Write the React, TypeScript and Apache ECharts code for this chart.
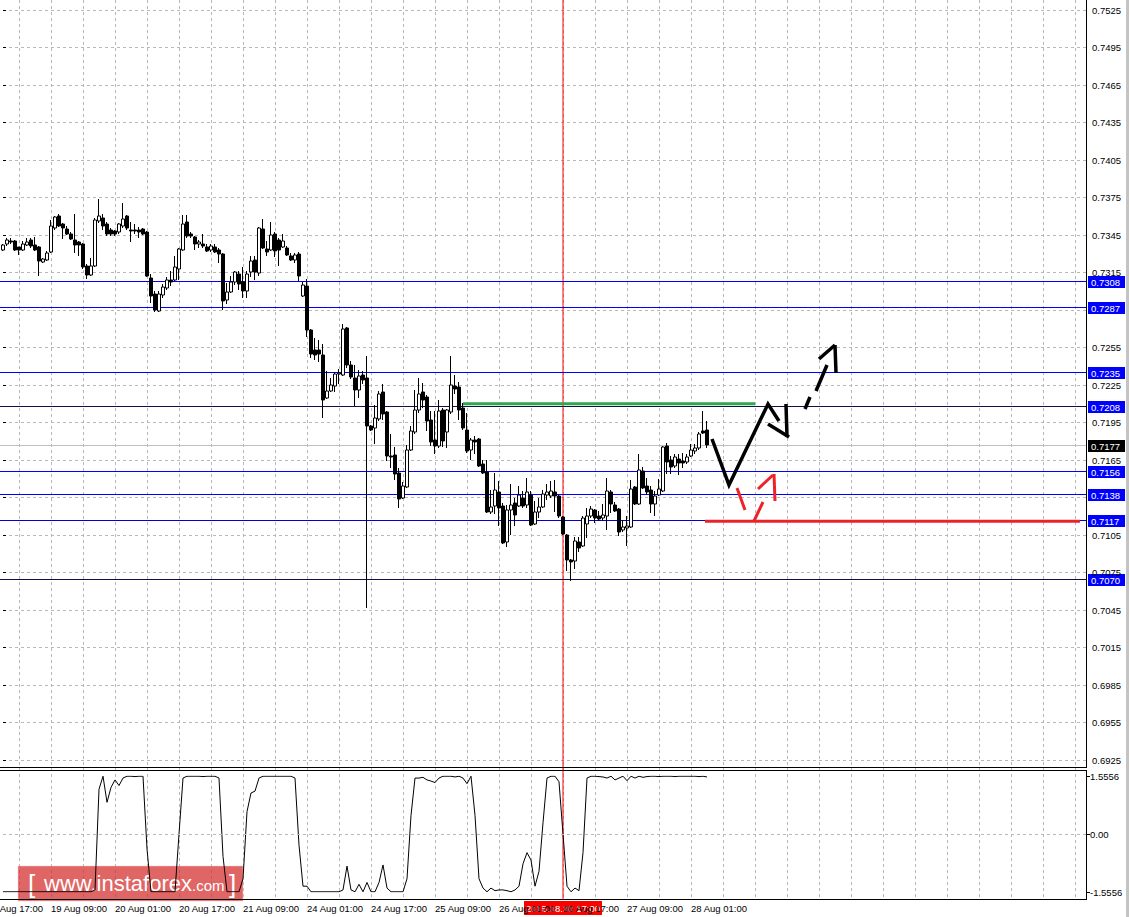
import React, { useEffect, useRef } from "react";
import * as echarts from "echarts";

const FONT = "'Liberation Sans', Arial, sans-serif";

// ---------- categories (H1 bars, Aug 2015) ----------
const SLOT_COUNT = 272; // visible slots incl. right-side shift area
const LABEL_PHASE = 4; // first label "18 Aug 17:00" lies 4 bars left of slot 0
const LAST_LABEL_INDEX = 172; // "28 Aug 01:00"
const CURSOR_INDEX = 140; // "26 Aug 17:00"
const CURSOR_LABEL = "2015.08.26 17:00";
const FIRST_LABEL = "18 Aug 17:00";

function buildCategories(): string[] {
  const mon = ["Jan", "Feb", "Mar", "Apr", "May", "Jun", "Jul", "Aug", "Sep", "Oct", "Nov", "Dec"];
  const out: string[] = [];
  let t = Date.UTC(2015, 7, 18, 21);
  while (out.length < SLOT_COUNT) {
    const d = new Date(t);
    const dd = String(d.getUTCDate()).padStart(2, "0");
    const hh = String(d.getUTCHours()).padStart(2, "0");
    out.push(`${dd} ${mon[d.getUTCMonth()]} ${hh}:00`);
    t += 3600000;
    while ([0, 6].includes(new Date(t).getUTCDay())) t += 3600000;
  }
  return out;
}
const categories = buildCategories();

// ---------- candles ----------
const opens = [
  0.7333, 0.73378, 0.73402, 0.73402, 0.73354, 0.7333, 0.7337, 0.7341, 0.7337, 0.73354,
  0.73234, 0.7325, 0.73314, 0.73506, 0.73602, 0.73538, 0.73498, 0.73458, 0.7341, 0.73394,
  0.73378, 0.73202, 0.7313, 0.73202, 0.73562, 0.73586, 0.73538, 0.7349, 0.73482, 0.73474,
  0.73522, 0.73602, 0.7349, 0.7349, 0.7349, 0.73498, 0.73474, 0.73106, 0.72978, 0.72842,
  0.7297, 0.73026, 0.7309, 0.7309, 0.73178, 0.7333, 0.73554, 0.73458, 0.73434, 0.73378,
  0.73378, 0.73354, 0.7333, 0.73354, 0.7333, 0.73298, 0.7293, 0.72994, 0.73074, 0.73138,
  0.73074, 0.73002, 0.73154, 0.7325, 0.73146, 0.73498, 0.73338, 0.7333, 0.73458, 0.7341,
  0.73354, 0.73346, 0.73282, 0.7325, 0.73298, 0.72962, 0.73042, 0.7269, 0.7253, 0.7253,
  0.7249, 0.72146, 0.72202, 0.72242, 0.72338, 0.7233, 0.72706, 0.7241, 0.72306, 0.7221,
  0.7233, 0.72306, 0.71922, 0.71906, 0.71978, 0.72194, 0.72034, 0.71682, 0.7169, 0.71546,
  0.71346, 0.71434, 0.7173, 0.71874, 0.7205, 0.72194, 0.72154, 0.7197, 0.7181, 0.71762,
  0.7205, 0.71874, 0.72034, 0.72242, 0.72234, 0.72066, 0.7189, 0.7173, 0.7181, 0.71818,
  0.71618, 0.71554, 0.71234, 0.71282, 0.71394, 0.71282, 0.70994, 0.7125, 0.71306, 0.71282,
  0.71346, 0.7129, 0.7137, 0.71138, 0.71234, 0.71274, 0.7137, 0.71362, 0.71394, 0.71362,
  0.71194, 0.7105, 0.7085, 0.70842, 0.70994, 0.70962, 0.71138, 0.71202, 0.7125, 0.71202,
  0.71186, 0.71202, 0.71394, 0.7129, 0.71258, 0.7109, 0.71106, 0.71114, 0.71434, 0.71298,
  0.71562, 0.71442, 0.7141, 0.71298, 0.7137, 0.71402, 0.71762, 0.7165, 0.71602, 0.71658,
  0.71642, 0.71634, 0.71682, 0.71722, 0.71746, 0.71882, 0.7189];
const highs = [
  0.73378, 0.73426, 0.73426, 0.7341, 0.73354, 0.73402, 0.73426, 0.73426, 0.73434, 0.73362,
  0.73266, 0.73322, 0.7357, 0.73602, 0.73618, 0.73546, 0.73522, 0.73474, 0.73618, 0.73402,
  0.73386, 0.73218, 0.73266, 0.73586, 0.73738, 0.73618, 0.73554, 0.73506, 0.7349, 0.73546,
  0.73706, 0.7361, 0.73554, 0.73538, 0.73514, 0.73506, 0.73482, 0.73138, 0.73002, 0.73002,
  0.73058, 0.73114, 0.73162, 0.73282, 0.73346, 0.7361, 0.7361, 0.73474, 0.73442, 0.7341,
  0.73458, 0.73378, 0.73378, 0.73378, 0.73346, 0.73306, 0.73066, 0.73122, 0.73162, 0.73162,
  0.73194, 0.73162, 0.73282, 0.73282, 0.73514, 0.73578, 0.73402, 0.73554, 0.73474, 0.73426,
  0.73458, 0.73362, 0.73306, 0.73306, 0.73314, 0.73074, 0.73098, 0.72698, 0.72626, 0.7261,
  0.72578, 0.72362, 0.72306, 0.72354, 0.72378, 0.72738, 0.72714, 0.72442, 0.7241, 0.7237,
  0.72362, 0.72482, 0.7193, 0.7209, 0.72202, 0.72258, 0.72042, 0.71858, 0.71754, 0.71586,
  0.71474, 0.7177, 0.71922, 0.7221, 0.72306, 0.72266, 0.7217, 0.72042, 0.72042, 0.7213,
  0.72066, 0.72058, 0.72482, 0.7233, 0.72274, 0.72106, 0.72026, 0.71826, 0.71842, 0.71826,
  0.7165, 0.7165, 0.7141, 0.71546, 0.71482, 0.71306, 0.7129, 0.71458, 0.71346, 0.71442,
  0.71402, 0.71506, 0.71402, 0.71322, 0.71346, 0.7141, 0.71458, 0.71482, 0.7149, 0.7137,
  0.71202, 0.71058, 0.70858, 0.71034, 0.71034, 0.71202, 0.71266, 0.71282, 0.71258, 0.71242,
  0.71298, 0.71506, 0.7141, 0.71314, 0.71266, 0.7117, 0.71202, 0.7149, 0.71442, 0.71698,
  0.71594, 0.71506, 0.71442, 0.71402, 0.71498, 0.71762, 0.71786, 0.71682, 0.71698, 0.71698,
  0.71706, 0.71698, 0.71778, 0.71778, 0.71874, 0.72042, 0.71962];
const lows = [
  0.73322, 0.73362, 0.73378, 0.73322, 0.7329, 0.73322, 0.73362, 0.73346, 0.73322, 0.73122,
  0.73226, 0.73242, 0.73306, 0.7349, 0.73514, 0.73418, 0.7345, 0.7341, 0.73306, 0.73282,
  0.73178, 0.73098, 0.73122, 0.73194, 0.73546, 0.7349, 0.73442, 0.73442, 0.73442, 0.73458,
  0.73506, 0.7349, 0.73394, 0.73458, 0.73426, 0.7345, 0.73114, 0.72906, 0.72834, 0.72834,
  0.72946, 0.7301, 0.73042, 0.73082, 0.7309, 0.73322, 0.73426, 0.73426, 0.7333, 0.73346,
  0.73346, 0.73314, 0.73314, 0.73306, 0.73226, 0.7285, 0.72898, 0.72986, 0.7305, 0.7301,
  0.72946, 0.72946, 0.73114, 0.7309, 0.73122, 0.73338, 0.73282, 0.73322, 0.73274, 0.73202,
  0.73346, 0.73282, 0.73242, 0.73226, 0.73082, 0.72954, 0.72634, 0.72466, 0.7245, 0.72434,
  0.71986, 0.72138, 0.72194, 0.72194, 0.72258, 0.72322, 0.72386, 0.72298, 0.72082, 0.72146,
  0.72258, 0.70466, 0.71882, 0.71778, 0.71962, 0.7197, 0.71642, 0.71586, 0.7149, 0.71266,
  0.71338, 0.71426, 0.71722, 0.71858, 0.72026, 0.72066, 0.71882, 0.71762, 0.71698, 0.71746,
  0.71754, 0.71746, 0.72018, 0.72178, 0.7197, 0.7189, 0.71706, 0.7165, 0.71698, 0.71594,
  0.71538, 0.71226, 0.71218, 0.71218, 0.71122, 0.70978, 0.70954, 0.7105, 0.71122, 0.71274,
  0.71266, 0.71266, 0.71122, 0.7113, 0.71186, 0.71266, 0.7133, 0.71346, 0.71234, 0.71186,
  0.7105, 0.70762, 0.70682, 0.70778, 0.70914, 0.70954, 0.71026, 0.71186, 0.71146, 0.71162,
  0.71162, 0.7109, 0.71226, 0.71234, 0.71042, 0.71074, 0.70962, 0.71106, 0.7129, 0.7129,
  0.71418, 0.7137, 0.71226, 0.71202, 0.71362, 0.71394, 0.71538, 0.71538, 0.71586, 0.7153,
  0.71586, 0.71618, 0.71674, 0.71698, 0.7173, 0.71858, 0.71746];
const closes = [
  0.7337, 0.7341, 0.73394, 0.7333, 0.7333, 0.73378, 0.73394, 0.73362, 0.7333, 0.73242,
  0.73258, 0.73306, 0.73522, 0.73594, 0.73522, 0.73506, 0.73458, 0.73418, 0.7337, 0.7337,
  0.73194, 0.7313, 0.73202, 0.7357, 0.73602, 0.73522, 0.73458, 0.73458, 0.73458, 0.73538,
  0.73578, 0.73506, 0.73482, 0.73482, 0.73474, 0.73458, 0.73122, 0.72962, 0.7285, 0.72978,
  0.73034, 0.7309, 0.73074, 0.73194, 0.73338, 0.73538, 0.73442, 0.73442, 0.73378, 0.73394,
  0.73362, 0.73322, 0.73362, 0.73314, 0.73298, 0.72922, 0.72994, 0.73074, 0.73154, 0.73058,
  0.73002, 0.73138, 0.73242, 0.73154, 0.73506, 0.73346, 0.73314, 0.7345, 0.73322, 0.7333,
  0.73402, 0.7329, 0.7325, 0.7329, 0.73122, 0.7305, 0.7269, 0.72498, 0.7249, 0.72498,
  0.7213, 0.72202, 0.7225, 0.72338, 0.72346, 0.72698, 0.7241, 0.72314, 0.7221, 0.72322,
  0.7229, 0.71922, 0.7189, 0.71986, 0.72178, 0.72018, 0.71682, 0.71674, 0.71538, 0.71338,
  0.71442, 0.7173, 0.71882, 0.7205, 0.72178, 0.7213, 0.71962, 0.71794, 0.71762, 0.72042,
  0.71802, 0.7205, 0.7225, 0.72218, 0.7205, 0.71906, 0.71722, 0.7181, 0.71794, 0.71602,
  0.71546, 0.71234, 0.71274, 0.7141, 0.71266, 0.70986, 0.7125, 0.7129, 0.7121, 0.7137,
  0.71282, 0.71394, 0.7113, 0.71234, 0.71274, 0.71378, 0.71394, 0.71402, 0.71362, 0.71202,
  0.71058, 0.7085, 0.70834, 0.71002, 0.70946, 0.71186, 0.71202, 0.71258, 0.71186, 0.71178,
  0.7121, 0.71402, 0.71298, 0.71242, 0.71074, 0.71114, 0.71122, 0.71418, 0.71298, 0.7157,
  0.71426, 0.71394, 0.71298, 0.71362, 0.71418, 0.71754, 0.71634, 0.71594, 0.71674, 0.71626,
  0.71626, 0.71674, 0.7173, 0.71746, 0.71858, 0.71866, 0.7177];

// ---------- oscillator sub-window ----------
const oscillator = [
  -1.55, -1.55, -1.55, -1.55, -1.55, -1.55, -1.55, -1.55, -1.55, -1.55,
  -1.55, -1.55, -1.55, -1.55, -1.55, -1.55, -1.55, -1.55, -1.55, -1.55,
  -1.55, -1.55, -1.55, -1.5, 1.2, 1.55, 0.85, 1.25, 1.45, 1.3,
  1.5, 1.55, 1.55, 1.54, 1.55, 1.55, -0.4, -1.55, -1.55, -1.55,
  -1.55, -1.55, -1.55, -1.55, 0.0, 1.5, 1.55, 1.55, 1.55, 1.55,
  1.54, 1.55, 1.55, 1.55, 1.5, -0.6, -1.55, -1.55, -1.55, -1.55,
  -1.2, 0.6, 1.1, 1.15, 1.5, 1.55, 1.55, 1.55, 1.55, 1.55,
  1.55, 1.55, 1.55, 1.5, -0.3, -1.4, -1.4, -1.55, -1.55, -1.55,
  -1.55, -1.55, -1.55, -1.55, -1.55, -1.5, -0.86, -1.5, -1.55, -1.35,
  -1.55, -1.3, -1.55, -1.55, -1.3, -0.83, -1.45, -1.55, -1.55, -1.55,
  -1.55, -1.2, 0.5, 1.5, 1.5, 1.52, 1.45, 1.42, 1.38, 1.5,
  1.55, 1.55, 1.55, 1.53, 1.55, 1.5, 1.35, 1.55, 0.5, -1.2,
  -1.45, -1.55, -1.45, -1.52, -1.5, -1.5, -1.52, -1.55, -1.5, -1.4,
  -0.8, -0.5, -0.7, -1.4, -1.0, 0.3, 1.5, 1.55, 1.55, 1.4,
  0.0, -1.4, -1.55, -1.45, -1.52, -0.5, 1.5, 1.55, 1.55, 1.54,
  1.53, 1.5, 1.55, 1.45, 1.5, 1.55, 1.43, 1.55, 1.5, 1.55,
  1.52, 1.54, 1.55, 1.55, 1.54, 1.55, 1.55, 1.55, 1.54, 1.55,
  1.55, 1.55, 1.55, 1.55, 1.54, 1.55, 1.53];

// ---------- horizontal levels ----------
const levelValues = [0.7308, 0.7287, 0.7235, 0.7208, 0.7156, 0.7138, 0.7117, 0.707];
const levelLineColors = ["#0000ff", "#0000ff", "#0000ff", "#10104a", "#0000ff", "#0000ff", "#0000d0", "#10104a"];
const levelTagColor = "#0000ff";
const currentPrice = 0.7177;
const currentLineColor = "#c0c0c0";
const yTickMin = 0.6925;
const yTickMax = 0.7525;
const yTickStep = 0.003;
const hiddenTickLabels = ["0.7285", "0.7135"]; // covered by the 0.7287 / 0.7138 tags
const oscBound = 1.5556;

// ---------- hand-drawn annotations (x = slot index, y = price) ----------
const greenSegment = [[115, 0.721], [188, 0.721]];
const redSegment = [[175.5, 0.7116], [269.25, 0.7116]];
const blackPath = [[177.25, 0.71818], [181.5, 0.7145], [191.25, 0.72098], [194, 0.71962]];
const blackHead = [
  [[191.25, 0.71938], [196.5, 0.71834]],
  [[195.75, 0.72098], [196, 0.71834]],
];
const blackDashes = [
  [[200.5, 0.72058], [201.75, 0.72154]],
  [[203.25, 0.72202], [206, 0.7241]],
  [[204, 0.72458], [208, 0.7257]],
  [[208, 0.7257], [208.25, 0.72346]],
];
const redDashes = [
  [[183.5, 0.71426], [185.5, 0.7125]],
  [[187.75, 0.71162], [190, 0.71314]],
  [[188.75, 0.71418], [192.5, 0.7153]],
  [[192.75, 0.71538], [193, 0.71322]],
];

const GRID_LEFT = 3;
const GRID_RIGHT = 43;
const AXIS_X = 1086.5;

function buildOption(): any {
  const candleData = opens.map((o, i) => [o, closes[i], lows[i], highs[i]]);

  const segs = (list: number[][][], color: string, width: number, z = 6) => ({
    type: "lines",
    coordinateSystem: "cartesian2d",
    xAxisIndex: 3,
    yAxisIndex: 0,
    polyline: true,
    silent: true,
    z,
    lineStyle: { color, width, opacity: 1 },
    data: list.map((c) => ({ coords: c })),
  });

  const splitDash = { color: "#b8b8b8", width: 1, type: [3, 3] };

  return {
    animation: false,
    backgroundColor: "#ffffff",
    textStyle: { fontFamily: FONT },
    grid: [
      { left: GRID_LEFT, right: GRID_RIGHT, top: 10, height: 750 },
      { left: GRID_LEFT, right: GRID_RIGHT, top: 776, height: 116 },
      { left: GRID_LEFT, right: GRID_RIGHT, top: 0, height: 899 },
    ],
    xAxis: [
      { type: "category", gridIndex: 0, data: categories, boundaryGap: false, show: false },
      { type: "category", gridIndex: 1, data: categories, boundaryGap: false, show: false },
      {
        type: "category",
        gridIndex: 2,
        data: categories,
        boundaryGap: false,
        position: "bottom",
        axisLine: { show: false },
        axisTick: { show: false },
        axisLabel: {
          interval: (i: number) => (i + LABEL_PHASE) % 16 === 0 && i <= LAST_LABEL_INDEX,
          showMinLabel: true,
          showMaxLabel: true,
          hideOverlap: false,
          align: "left",
          margin: 4,
          fontSize: 9.5,
          color: "#000",
          fontFamily: FONT,
        },
        splitLine: {
          show: true,
          interval: (i: number) => (i + LABEL_PHASE) % 8 === 0,
          lineStyle: splitDash,
        },
      },
      { type: "value", gridIndex: 0, min: 0, max: SLOT_COUNT - 1, show: false },
    ],
    yAxis: [
      {
        type: "value",
        gridIndex: 0,
        position: "right",
        min: yTickMin,
        max: yTickMax,
        interval: yTickStep,
        axisLine: { show: false },
        axisTick: { show: true, length: 3, lineStyle: { color: "#000" } },
        axisLabel: {
          formatter: (v: number) => (hiddenTickLabels.includes(v.toFixed(4)) ? "" : v.toFixed(4)),
          fontSize: 9.5,
          color: "#000",
          margin: 5,
          fontFamily: FONT,
        },
        splitLine: { show: true, lineStyle: splitDash },
      },
      {
        type: "value",
        gridIndex: 1,
        position: "right",
        min: -oscBound,
        max: oscBound,
        interval: oscBound,
        axisLine: { show: false },
        axisTick: { show: true, length: 3, lineStyle: { color: "#000" } },
        axisLabel: {
          formatter: (v: number) => (Math.abs(v) < 1e-9 ? "0.00" : v.toFixed(4)),
          fontSize: 9.5,
          color: "#000",
          margin: 3,
          fontFamily: FONT,
        },
        splitLine: { show: false },
      },
      { type: "value", gridIndex: 2, min: 0, max: 1, show: false },
    ],
    series: [
      {
        type: "line",
        xAxisIndex: 2,
        yAxisIndex: 2,
        data: [
          [categories[CURSOR_INDEX], 0],
          [categories[CURSOR_INDEX], 1],
        ],
        symbol: "none",
        silent: true,
        z: 1,
        lineStyle: { color: "#ff0000", width: 1 },
      },
      {
        type: "candlestick",
        xAxisIndex: 0,
        yAxisIndex: 0,
        data: candleData,
        barWidth: 2.6,
        silent: true,
        z: 3,
        itemStyle: {
          color: "#ffffff",
          color0: "#000000",
          borderColor: "#000000",
          borderColor0: "#000000",
          borderWidth: 1,
        },
      },
      segs([greenSegment], "#2ea84c", 3),
      segs([redSegment], "#e8232a", 3),
      segs([blackPath], "#000000", 3.5),
      segs(blackHead, "#000000", 3.5),
      segs(blackDashes, "#000000", 3.5),
      segs(redDashes, "#ee2229", 3),
      {
        type: "line",
        xAxisIndex: 1,
        yAxisIndex: 1,
        data: oscillator,
        symbol: "none",
        silent: true,
        z: 3,
        lineStyle: { color: "#000", width: 1 },
        markLine: {
          silent: true,
          symbol: ["none", "none"],
          label: { show: false },
          data: [{ yAxis: 0, lineStyle: splitDash }],
        },
      },
    ],
  };
}

type Level = { y: number; lineColor: string; tagColor: string; text: string };

function buildGraphics(cursorX: number, firstLabelX: number, levels: Level[]): any[] {
  const line = (id: string, x1: number, y1: number, x2: number, y2: number, color = "#000", z = 50) => ({
    id,
    type: "line",
    z,
    silent: true,
    shape: { x1, y1, x2, y2 },
    style: { stroke: color, lineWidth: 1 },
  });
  const levelEls: any[] = [];
  levels.forEach((l, i) => {
    levelEls.push(line("lv" + i, 0, l.y, AXIS_X, l.y, l.lineColor, 2));
    levelEls.push({
      id: "tg" + i,
      type: "group",
      z: 55,
      silent: true,
      children: [
        { type: "rect", shape: { x: 1088, y: Math.floor(l.y) - 5, width: 37, height: 12 }, style: { fill: l.tagColor } },
        {
          type: "text",
          x: 1091,
          y: Math.floor(l.y) + 1,
          style: { text: l.text, fill: "#fff", fontSize: 9.5, fontFamily: FONT, verticalAlign: "middle" },
        },
      ],
    });
  });
  return [
    ...levelEls,
    line("b1", AXIS_X, 0, AXIS_X, 767),
    line("b2", 0, 767.5, 1087, 767.5),
    line("b3", 0, 770.5, 1087, 770.5),
    line("b4", AXIS_X, 770, AXIS_X, 900),
    line("b5", 0, 899.5, 1087, 899.5),
    {
      id: "firstLabel",
      type: "text",
      z: 40,
      silent: true,
      x: firstLabelX,
      y: 903,
      style: { text: FIRST_LABEL, fill: "#000", fontSize: 9.5, fontFamily: FONT, verticalAlign: "top" },
    },
    {
      id: "edge",
      type: "rect",
      z: 50,
      silent: true,
      shape: { x: 1126, y: 0, width: 3, height: 917 },
      style: { fill: "#c4c4c4" },
    },
    {
      id: "wm",
      type: "group",
      z: 60,
      silent: true,
      children: [
        {
          type: "rect",
          shape: { x: 18, y: 866, width: 225, height: 35 },
          style: { fill: "rgba(212,42,42,0.72)", stroke: "rgba(255,200,200,0.5)", lineWidth: 1 },
        },
        {
          type: "text",
          x: 28,
          y: 884,
          style: { text: "[", fill: "#fff", fontSize: 26, fontFamily: FONT, verticalAlign: "middle" },
        },
        {
          type: "text",
          x: 44,
          y: 883,
          style: { text: "www.instaforex", fill: "#fff", fontSize: 22, fontFamily: FONT, verticalAlign: "middle" },
        },
        {
          type: "text",
          x: 192,
          y: 885,
          style: { text: ".com", fill: "#fff", fontSize: 15, fontFamily: FONT, verticalAlign: "middle" },
        },
        {
          type: "text",
          x: 229,
          y: 884,
          style: { text: "]", fill: "#fff", fontSize: 26, fontFamily: FONT, verticalAlign: "middle" },
        },
      ],
    },
    {
      id: "tag",
      type: "group",
      z: 70,
      silent: true,
      children: [
        {
          type: "rect",
          shape: { x: cursorX - 39, y: 901, width: 78, height: 14 },
          style: { fill: "#ff0000" },
        },
        {
          type: "text",
          x: cursorX,
          y: 908,
          style: {
            text: CURSOR_LABEL,
            fill: "#fff",
            fontSize: 9.5,
            fontFamily: FONT,
            align: "center",
            verticalAlign: "middle",
          },
        },
      ],
    },
  ];
}

export default function App() {
  const ref = useRef<HTMLDivElement>(null);
  useEffect(() => {
    document.body.style.margin = "0";
    const chart = echarts.init(ref.current!, undefined, { renderer: "svg" });
    chart.setOption(buildOption());
    const px = chart.convertToPixel({ xAxisIndex: 2 }, categories[CURSOR_INDEX]) as number;
    const p0 = chart.convertToPixel({ xAxisIndex: 2 }, categories[0]) as number;
    const p1 = chart.convertToPixel({ xAxisIndex: 2 }, categories[1]) as number;
    const firstLabelX = p0 - LABEL_PHASE * (p1 - p0);
    const yOf = (v: number) => Math.round(chart.convertToPixel({ yAxisIndex: 0 }, v) as number) + 0.5;
    const levels: Level[] = levelValues.map((v, i) => ({
      y: yOf(v),
      lineColor: levelLineColors[i],
      tagColor: levelTagColor,
      text: v.toFixed(4),
    }));
    levels.push({ y: yOf(currentPrice), lineColor: currentLineColor, tagColor: "#000000", text: currentPrice.toFixed(4) });
    chart.setOption({ graphic: { elements: buildGraphics(px, firstLabelX, levels) } });
    return () => chart.dispose();
  }, []);
  return <div ref={ref} style={{ width: 1130, height: 917 }} />;
}
